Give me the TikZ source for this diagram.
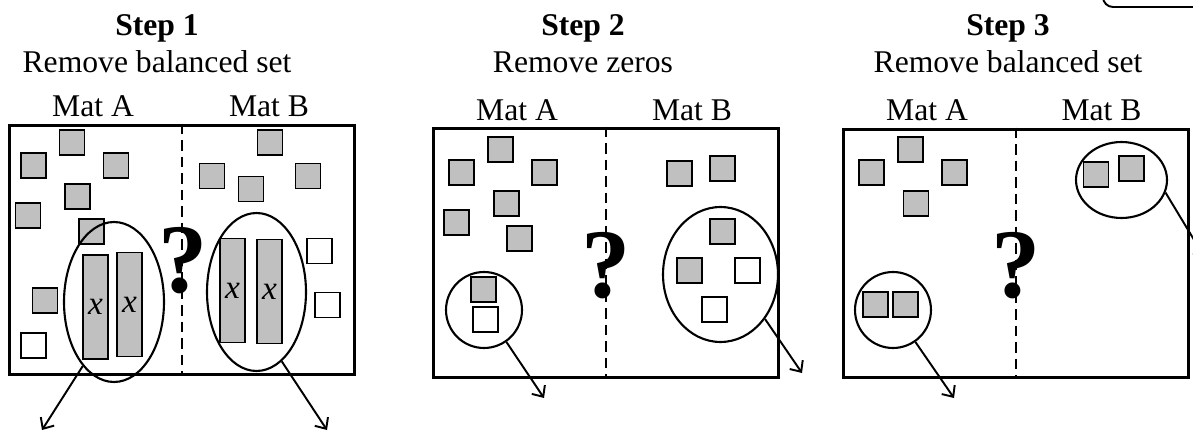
\documentclass[tikz,border=0pt]{standalone}
\usepackage{fontspec}
\setmainfont{Liberation Serif}
\usepackage{xcolor}
\usetikzlibrary{shapes.geometric, arrows.meta, positioning, calc}

\definecolor{tilegray}{RGB}{192,192,192}

\begin{document}
\begin{tikzpicture}[x=0.02cm, y=-0.02cm,
    panel/.style={draw, line width=1.7pt, minimum width=6.92cm, minimum height=5cm, inner sep=0pt},
    tile/.style={draw, line width=1.1pt, fill=tilegray, minimum size=0.5cm, inner sep=0pt},
    blank/.style={tile, fill=white},
    bar/.style={tile, minimum width=0.5cm, minimum height=2.08cm, font=\fontsize{19}{20}\selectfont\itshape},
    ring/.style={draw, ellipse, line width=1.2pt, inner sep=0pt},
    divider/.style={dash pattern=on 6pt off 3.4pt, line width=1.4pt},
    pointer/.style={line width=1.1pt, -{Straight Barb[length=5pt, width=9pt]}},
    ask/.style={font=\fontsize{56}{56}\selectfont\bfseries, anchor=base, inner sep=0pt},
    head/.style={font=\fontsize{18}{20}\selectfont, anchor=base, inner sep=0pt},
    headbf/.style={head, font=\fontsize{18}{20}\selectfont\bfseries}]
    \useasboundingbox (0,0) rectangle (1193,432);

    % Step 1
    \node[headbf] (s1) at (157,36) {Step 1};
    \node[head] (r1) at (157,73) {Remove balanced set};
    \node[head] (m1a) at (93,117) {Mat A};
    \node[head] (m1b) at (269,117) {Mat B};
    \node[panel] (p1) at (182,250) {};
    \draw[divider] (p1.north) -- (p1.south);
    \foreach \x/\y [count=\i] in {72/142.5, 33.5/165.5, 116/165.5, 77.5/196.5, 28/215.5, 91.5/231.5, 45/300.5}
        \node[tile] (t1a\i) at (\x,\y) {};
    \node[blank] (w1a) at (33.5,345.5) {};
    \foreach \x/\y [count=\i] in {270/142.5, 212/176, 251/189, 308/176}
        \node[tile] (t1b\i) at (\x,\y) {};
    \node[blank] (w1b1) at (319.5,251) {};
    \node[blank] (w1b2) at (327.5,305) {};
    \node[bar] (b1a1) at (95.5,307) {x};
    \node[bar] (b1a2) at (129.5,304.5) {x};
    \node[bar] (b1b1) at (232.5,290.5) {x};
    \node[bar] (b1b2) at (269.5,291.5) {x};
    \node[ask] (q1) at (183,293) {?};
    \node[ring, minimum width=2cm, minimum height=3.2cm] (e1a) at (114,302) {};
    \node[ring, minimum width=1.98cm, minimum height=3.16cm] (e1b) at (256.5,292) {};
    \coordinate (o1a) at (42,430);
    \coordinate (o1b) at (327,430);
    \draw[pointer] (e1a.244) -- (o1a);
    \draw[pointer] (e1b.290) -- (o1b);

    % Step 2
    \node[headbf] (s2) at (583,36) {Step 2};
    \node[head] (r2) at (583,73) {Remove zeros};
    \node[head] (m2a) at (517,120.5) {Mat A};
    \node[head] (m2b) at (692,120.5) {Mat B};
    \node[panel] (p2) at (606,253) {};
    \draw[divider] (p2.north) -- (p2.south);
    \foreach \x/\y [count=\i] in {500.5/149.5, 461.5/172.5, 544.5/172.5, 506.5/203.5, 456.5/222.5, 519.5/238.5, 483.5/289.5}
        \node[tile] (t2a\i) at (\x,\y) {};
    \node[blank] (w2a) at (485.5,319.5) {};
    \foreach \x/\y [count=\i] in {679.5/173.5, 722.5/168.5, 722.5/231.5, 689.5/270.5}
        \node[tile] (t2b\i) at (\x,\y) {};
    \node[blank] (w2b1) at (747.5,270.5) {};
    \node[blank] (w2b2) at (714.5,309.5) {};
    \node[ask] (q2) at (606,297) {?};
    \node[ring, minimum size=1.52cm] (e2a) at (484,310) {};
    \node[ring, minimum width=2.3cm, minimum height=2.7cm] (e2b) at (720.5,274.5) {};
    \coordinate (o2a) at (544,398);
    \coordinate (o2b) at (802,373);
    \draw[pointer] (e2a.-55) -- (o2a);
    \draw[pointer] (e2b.-45) -- (o2b);

    % Step 3
    \node[headbf] (s3) at (1008,36) {Step 3};
    \node[head] (r3) at (1008,73) {Remove balanced set};
    \node[head] (m3a) at (927,120.5) {Mat A};
    \node[head] (m3b) at (1101.5,120.5) {Mat B};
    \node[panel, minimum height=4.98cm] (p3) at (1016,253.5) {};
    \draw[divider] (p3.north) -- (p3.south);
    \foreach \x/\y [count=\i] in {910.5/149.5, 871.5/172.5, 954.5/172.5, 916/203.5, 875.5/304.5, 905.5/304.5}
        \node[tile] (t3a\i) at (\x,\y) {};
    \foreach \x/\y [count=\i] in {1096/174.5, 1131.5/168.5}
        \node[tile] (t3b\i) at (\x,\y) {};
    \node[ask] (q3) at (1016,297) {?};
    \node[ring, minimum size=1.52cm] (e3a) at (893,310) {};
    \node[ring, minimum width=1.82cm, minimum height=1.52cm] (e3b) at (1121.5,180) {};
    \coordinate (o3a) at (954,398);
    \coordinate (o3b) at (1205,258);
    \draw[pointer] (e3a.-55) -- (o3a);
    \draw[pointer] (e3b.-16) -- (o3b);

    % box corner, top right
    \draw[line width=1.1pt, rounded corners=5.7pt] (1103,-20) -- (1103,7) -- (1220,7);
\end{tikzpicture}
\end{document}
